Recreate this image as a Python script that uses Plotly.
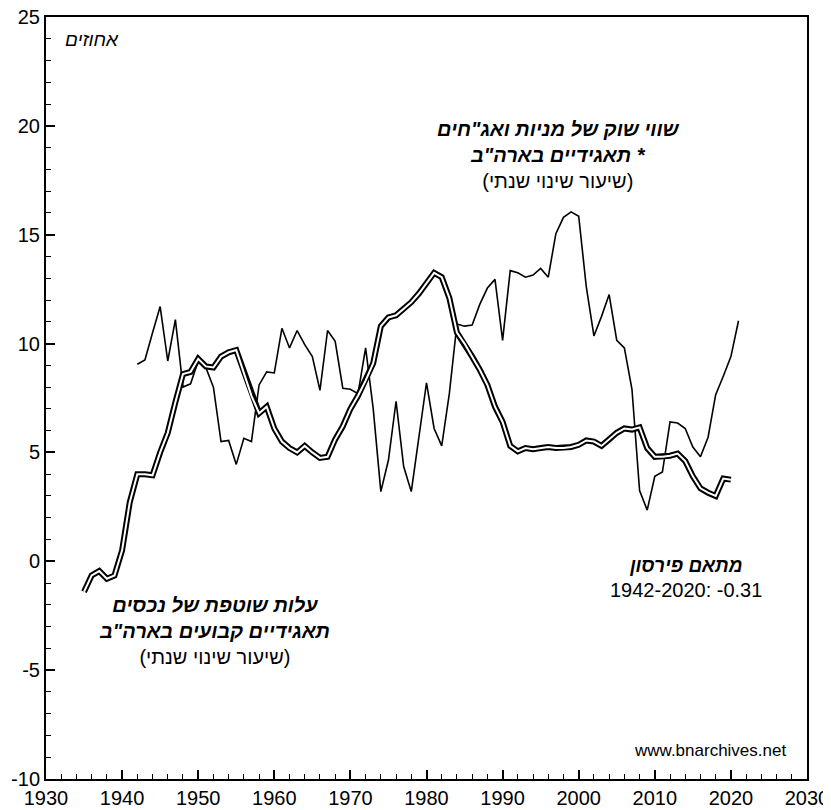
import plotly.graph_objects as go

# ---- data ----
asset_years = list(range(1935, 2021))
asset_growth = [
    -1.4, -0.65, -0.45, -0.8, -0.65, 0.5, 2.7, 4.0, 4.0, 3.95,
    5.0, 5.9, 7.3, 8.6, 8.7, 9.3, 8.95, 8.9, 9.4, 9.6,
    9.7, 8.7, 7.6, 6.8, 7.1, 6.1, 5.5, 5.2, 5.0, 5.3,
    5.0, 4.75, 4.8, 5.6, 6.2, 7.0, 7.6, 8.3, 9.1, 10.8,
    11.2, 11.3, 11.6, 11.9, 12.3, 12.8, 13.25, 13.05, 12.1, 10.5,
    10.0, 9.4, 8.8, 8.1, 7.1, 6.4, 5.3, 5.05, 5.2, 5.15,
    5.2, 5.25, 5.2, 5.2, 5.25, 5.35, 5.55, 5.5, 5.3, 5.6,
    5.9, 6.1, 6.05, 6.15, 5.2, 4.8, 4.8, 4.85, 4.95, 4.6,
    3.9, 3.35, 3.15, 3.0, 3.8, 3.75,
]

market_years = list(range(1942, 2022))
market_growth = [
    9.05, 9.25, 10.5, 11.7, 9.2, 11.1, 8.0, 8.15, 9.2, 8.9,
    8.0, 5.5, 5.55, 4.45, 5.65, 5.5, 8.1, 8.7, 8.65, 10.7,
    9.8, 10.6, 9.95, 9.4, 7.85, 10.6, 10.1, 7.95, 7.9, 7.7,
    9.8, 7.0, 3.2, 4.65, 7.35, 4.35, 3.2, 5.65, 8.2, 6.1,
    5.3, 7.7, 10.9, 10.8, 10.85, 11.8, 12.55, 12.95, 10.15, 13.35,
    13.25, 13.05, 13.15, 13.45, 13.05, 15.05, 15.8, 16.05, 15.85, 12.6,
    10.35, 11.25, 12.25, 10.15, 9.8, 7.9, 3.25, 2.35, 3.9, 4.1,
    6.4, 6.35, 6.1, 5.25, 4.8, 5.7, 7.65, 8.5, 9.4, 11.05,
]

x_ticks = [1930, 1940, 1950, 1960, 1970, 1980, 1990, 2000, 2010, 2020, 2030]
y_ticks = [-10, -5, 0, 5, 10, 15, 20, 25]
y_tick_labels = ["-10", "-5", "0", "5", "10", "15", "20", "25"]

FONT = "Liberation Sans, Arial, DejaVu Sans, sans-serif"

fig = go.Figure()
fig.add_trace(go.Scatter(x=market_years, y=market_growth, mode="lines",
                         line=dict(color="black", width=1.6), hoverinfo="skip"))
fig.add_trace(go.Scatter(x=asset_years, y=asset_growth, mode="lines",
                         line=dict(color="black", width=6), hoverinfo="skip"))
fig.add_trace(go.Scatter(x=asset_years, y=asset_growth, mode="lines",
                         line=dict(color="white", width=2), hoverinfo="skip"))

axis_common = dict(showline=True, linecolor="black", linewidth=2, mirror=True,
                   ticks="inside", tickcolor="black", tickwidth=1.5, ticklen=9,
                   showgrid=False, zeroline=False, automargin=False,
                   ticklabeloverflow="allow",
                   tickfont=dict(family=FONT, size=20, color="black"))

fig.update_xaxes(range=[1930, 2030], tickvals=x_ticks,
                 minor=dict(dtick=2, ticks="inside", ticklen=5, tickcolor="black", tickwidth=1.2, showgrid=False),
                 **axis_common)
fig.update_yaxes(range=[-10, 25], tickvals=y_ticks, ticktext=y_tick_labels,
                 minor=dict(dtick=1, ticks="inside", ticklen=5, tickcolor="black", tickwidth=1.2, showgrid=False),
                 **axis_common)

anns = [
    dict(x=1936.0, y=23.95, text="<i>אחוזים</i>", size=19),
    dict(x=1997.3, y=18.66,
         text="<b><i>שווי שוק של מניות ואג\"חים</i></b><br><b><i>תאגידיים בארה\"ב *</i></b><br>(שיעור שינוי שנתי)",
         size=20),
    dict(x=1952.2, y=-3.2,
         text="<b><i>עלות שוטפת של נכסים</i></b><br><b><i>תאגידיים קבועים בארה\"ב</i></b><br>(שיעור שינוי שנתי)",
         size=20),
    dict(x=2014.1, y=-0.77,
         text="<b><i>מתאם פירסון</i></b><br><span style=\"font-size:20px\">1942-2020: -0.31</span>", size=19),
    dict(x=2017.2, y=-8.7, text="www.bnarchives.net", size=17),
]
for a in anns:
    fig.add_annotation(x=a["x"], y=a["y"], xref="x", yref="y", text=a["text"],
                       showarrow=False, align="center", xanchor="center", yanchor="middle",
                       font=dict(family=FONT, size=a["size"], color="black"))

# the page body adds an 8px offset, so the figure is sized/margined to compensate
fig.update_layout(width=823, height=802, showlegend=False,
                  paper_bgcolor="white", plot_bgcolor="white",
                  margin=dict(l=38, r=24, t=9, b=31, autoexpand=False))

fig.write_html("out.html")
